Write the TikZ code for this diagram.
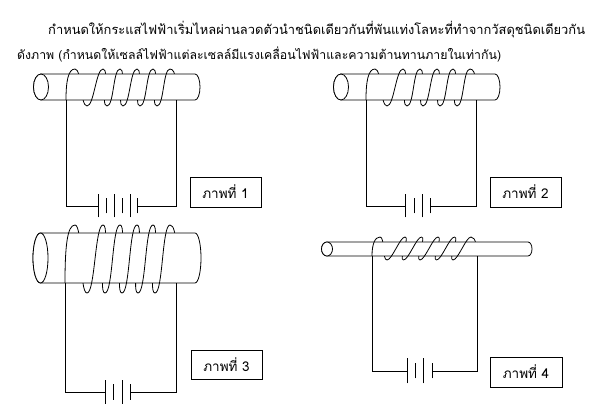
\documentclass[tikz,border=0pt]{standalone}
\usepackage{fontspec}
\newfontfamily\thaifont[Script=Thai]{Loma}
\tikzset{
  wire/.style={line width=0.8pt},
  plate/.style={line width=0.8pt},
  rod/.style={line width=0.8pt, fill=white},
  heading/.style={anchor=base west, inner sep=0pt, font=\thaifont\fontsize{12.9}{15}\selectfont},
  labelbox/.style={draw, line width=0.8pt, minimum width=71pt, minimum height=30pt, inner sep=0pt, font=\thaifont\fontsize{13.5}{15}\selectfont}
}
\begin{document}
\begin{tikzpicture}[x=1pt,y=1pt]
\useasboundingbox (0,0) rectangle (610,417);
% heading
\node[heading] (line1) at (48,382) {กำหนดให้กระแสไฟฟ้าเริ่มไหลผ่านลวดตัวนำชนิดเดียวกันที่พันแท่งโลหะที่ทำจากวัสดุชนิดเดียวกัน};
\node[heading, font=\thaifont\fontsize{12.3}{15}\selectfont] (line2) at (17,357) {ดังภาพ (กำหนดให้เซลล์ไฟฟ้าแต่ละเซลล์มีแรงเคลื่อนไฟฟ้าและความต้านทานภายในเท่ากัน)};

% picture 1
\coordinate (L1) at (66,317);
\coordinate (R1) at (176,317);
\foreach \t/\b in {75/87,103/107,120/123,137/140,153/157}
  \draw[wire] (\t,348) .. controls +(7,0) and +(-7,0) .. (\b,311);
\draw[wire] (170,348) .. controls +(7,0) and +(0,12) .. (R1);
\filldraw[rod] (41,343) -- (195,343) arc[start angle=90, end angle=-90, x radius=5, y radius=13] -- (41,317) arc[start angle=270, end angle=90, x radius=7.5, y radius=13] -- cycle;
\draw[rod] (41,330) ellipse[x radius=7.5, y radius=13];
\draw[wire] (L1) .. controls +(0,18) and +(-7,0) .. (75,348);
\foreach \b/\t in {87/103,107/120,123/137,140/153,157/170}
  \draw[wire] (\b,311) .. controls +(7,0) and +(-7,0) .. (\t,348);
\coordinate (P1) at (98,211);
\coordinate (N1) at (137.5,211);
\draw[wire] (L1) -- (L1 |- P1) -- (P1);
\draw[wire] (N1) -- (R1 |- N1) -- (R1);
\foreach \x/\h in {98/11.5,106.5/7.5,114/11.5,122/7.5,130/11.5,137.5/7.5}
  \draw[plate] (\x,211) ++(0,-\h) -- ++(0,2*\h);
\node[labelbox] (cap1) at (225.5,225) {ภาพที่ 1};

% picture 2
\begin{scope}[xshift=300pt]
\coordinate (L2) at (66,317);
\coordinate (R2) at (176,317);
\foreach \t/\b in {75/87,103/107,120/123,137/140,153/157}
  \draw[wire] (\t,348) .. controls +(7,0) and +(-7,0) .. (\b,311);
\draw[wire] (170,348) .. controls +(7,0) and +(0,12) .. (R2);
\filldraw[rod] (41,343) -- (195,343) arc[start angle=90, end angle=-90, x radius=5, y radius=13] -- (41,317) arc[start angle=270, end angle=90, x radius=7.5, y radius=13] -- cycle;
\draw[rod] (41,330) ellipse[x radius=7.5, y radius=13];
\draw[wire] (L2) .. controls +(0,18) and +(-7,0) .. (75,348);
\foreach \b/\t in {87/103,107/120,123/137,140/153,157/170}
  \draw[wire] (\b,311) .. controls +(7,0) and +(-7,0) .. (\t,348);
\coordinate (P2) at (105,211);
\coordinate (N2) at (130,211);
\draw[wire] (L2) -- (L2 |- P2) -- (P2);
\draw[wire] (N2) -- (R2 |- N2) -- (R2);
\foreach \x/\h in {105/11.5,114/7.5,122/11.5,130/7.5}
  \draw[plate] (\x,211) ++(0,-\h) -- ++(0,2*\h);
\node[labelbox] (cap2) at (225.5,225) {ภาพที่ 2};
\end{scope}

% picture 3
\coordinate (L3) at (65,134);
\coordinate (R3) at (176,134);
\foreach \t/\b in {75/87,103/105,120/122,137/138,153/155}
  \draw[wire] (\t,192) .. controls +(8,0) and +(-8,0) .. (\b,124);
\draw[wire] (170,192) .. controls +(8,0) and +(0,20) .. (R3);
\filldraw[rod] (40.5,184) -- (195,184) arc[start angle=90, end angle=-90, x radius=6, y radius=25] -- (40.5,134) arc[start angle=270, end angle=90, x radius=7.5, y radius=25] -- cycle;
\draw[rod] (40.5,159) ellipse[x radius=7.5, y radius=25];
\draw[wire] (L3) .. controls +(0,35) and +(-8,0) .. (75,192);
\foreach \b/\t in {87/103,105/120,122/137,138/153,155/170}
  \draw[wire] (\b,124) .. controls +(8,0) and +(-8,0) .. (\t,192);
\coordinate (P3) at (105,25);
\coordinate (N3) at (130,25);
\draw[wire] (L3) -- (L3 |- P3) -- (P3);
\draw[wire] (N3) -- (R3 |- N3) -- (R3);
\foreach \x/\h in {105/12,113/8,122/12,130/8}
  \draw[plate] (\x,25) ++(0,-\h) -- ++(0,2*\h);
\node[labelbox, minimum height=29pt] (cap3) at (226.5,52.5) {ภาพที่ 3};

% picture 4
\coordinate (L4) at (372,161);
\coordinate (R4) at (477,161);
\foreach \t/\b in {380/387,405/403.5,421.5/420,438/436.5,454.5/453}
  \draw[wire] (\t,180) .. controls +(5,0) and +(-5,0) .. (\b,157);
\draw[wire] (471,180) .. controls +(5,0) and +(0,8) .. (R4);
\filldraw[rod] (327,175) -- (528,175) arc[start angle=90, end angle=-90, x radius=4, y radius=7] -- (327,161) arc[start angle=270, end angle=90, x radius=5.5, y radius=7] -- cycle;
\draw[rod] (327,168) ellipse[x radius=5.5, y radius=7];
\draw[wire] (L4) .. controls +(0,12) and +(-5,0) .. (380,180);
\foreach \b/\t in {387/405,403.5/421.5,420/438,436.5/454.5,453/471}
  \draw[wire] (\b,157) .. controls +(5,0) and +(-5,0) .. (\t,180);
\coordinate (P4) at (407,46);
\coordinate (N4) at (432,46);
\draw[wire] (L4) -- (L4 |- P4) -- (P4);
\draw[wire] (N4) -- (R4 |- N4) -- (R4);
\foreach \x/\h in {407/12.5,415/7.5,423/12.5,432/7.5}
  \draw[plate] (\x,46) ++(0,-\h) -- ++(0,2*\h);
\node[labelbox, minimum width=72pt] (cap4) at (526,45) {ภาพที่ 4};
\end{tikzpicture}
\end{document}
